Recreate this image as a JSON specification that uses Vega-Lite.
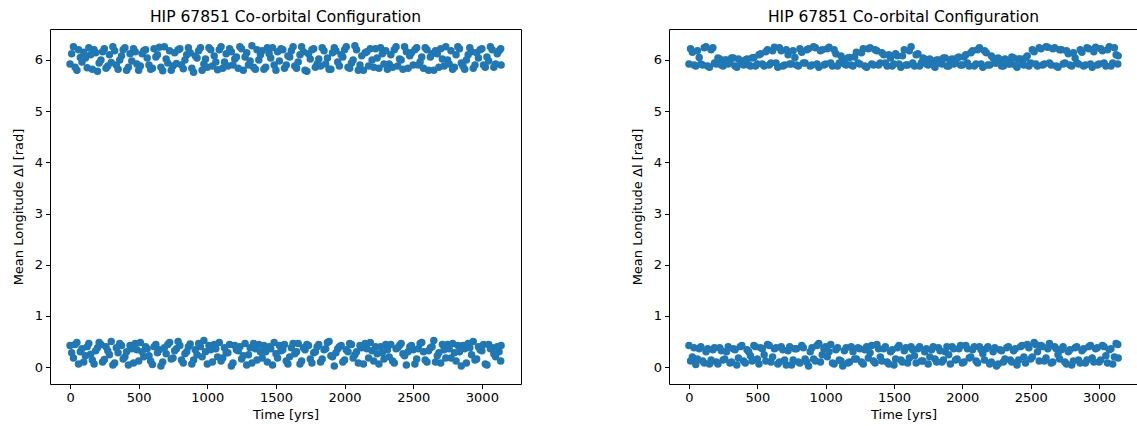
{
  "$schema": "https://vega.github.io/schema/vega-lite/v6.json",
  "background": "white",
  "padding": {"top": 9, "left": 11, "right": 0, "bottom": 0},
  "spacing": 108,
  "config": {
    "font": "DejaVu Sans",
    "view": {"stroke": "black", "strokeWidth": 1},
    "axis": {"domain": false, "grid": false, "tickColor": "black", "tickSize": 4.5, "labelColor": "black", "labelFontSize": 13, "labelFont": "DejaVu Sans", "labelPadding": 3, "titleFont": "DejaVu Sans", "titleFontSize": 13, "titleFontWeight": "normal", "titleColor": "black"},
    "axisX": {"titlePadding": 4, "format": "d"},
    "axisY": {"titlePadding": 9},
    "title": {"font": "DejaVu Sans", "fontSize": 15.5, "fontWeight": "normal", "color": "black", "offset": 4}
  },
  "data": {"values": [
{"t":0,"a":5.92,"b":0.42,"c":5.92,"d":0.42},
{"t":25,"a":6.26,"b":0.18,"c":6.15,"d":0.20},
{"t":50,"a":5.80,"b":0.48,"c":5.88,"d":0.05},
{"t":75,"a":6.05,"b":0.30,"c":6.05,"d":0.36},
{"t":100,"a":6.15,"b":0.10,"c":5.90,"d":0.12},
{"t":125,"a":5.85,"b":0.40,"c":6.26,"d":0.30},
{"t":150,"a":6.10,"b":0.25,"c":5.86,"d":0.06},
{"t":175,"a":6.20,"b":0.06,"c":6.24,"d":0.34},
{"t":200,"a":5.78,"b":0.38,"c":5.92,"d":0.10},
{"t":225,"a":6.00,"b":0.44,"c":6.02,"d":0.38},
{"t":250,"a":6.22,"b":0.15,"c":5.88,"d":0.14},
{"t":275,"a":5.88,"b":0.32,"c":6.00,"d":0.30},
{"t":300,"a":5.95,"b":0.50,"c":5.94,"d":0.08},
{"t":325,"a":6.18,"b":0.08,"c":6.04,"d":0.36},
{"t":350,"a":5.82,"b":0.28,"c":5.86,"d":0.04},
{"t":375,"a":6.08,"b":0.42,"c":5.98,"d":0.40},
{"t":400,"a":6.24,"b":0.20,"c":5.90,"d":0.12},
{"t":425,"a":5.86,"b":0.04,"c":6.02,"d":0.34},
{"t":450,"a":5.98,"b":0.36,"c":5.88,"d":0.22},
{"t":475,"a":6.16,"b":0.46,"c":6.05,"d":0.42},
{"t":500,"a":5.80,"b":0.12,"c":5.92,"d":0.16},
{"t":525,"a":6.12,"b":0.30,"c":6.12,"d":0.38},
{"t":550,"a":6.20,"b":0.40,"c":5.88,"d":0.24},
{"t":575,"a":5.90,"b":0.22,"c":6.20,"d":0.44},
{"t":600,"a":5.84,"b":0.05,"c":5.94,"d":0.10},
{"t":625,"a":6.06,"b":0.44,"c":6.25,"d":0.36},
{"t":650,"a":6.25,"b":0.34,"c":5.86,"d":0.06},
{"t":675,"a":5.79,"b":0.10,"c":6.18,"d":0.40},
{"t":700,"a":6.02,"b":0.26,"c":5.90,"d":0.14},
{"t":725,"a":6.18,"b":0.48,"c":6.10,"d":0.32},
{"t":750,"a":5.88,"b":0.18,"c":5.92,"d":0.04},
{"t":775,"a":5.93,"b":0.36,"c":6.05,"d":0.36},
{"t":800,"a":6.22,"b":0.42,"c":5.88,"d":0.10},
{"t":825,"a":5.83,"b":0.08,"c":6.15,"d":0.42},
{"t":850,"a":6.10,"b":0.30,"c":5.94,"d":0.16},
{"t":875,"a":6.14,"b":0.45,"c":6.22,"d":0.02},
{"t":900,"a":5.76,"b":0.14,"c":5.90,"d":0.38},
{"t":925,"a":6.04,"b":0.24,"c":6.24,"d":0.12},
{"t":950,"a":6.24,"b":0.40,"c":5.86,"d":0.46},
{"t":975,"a":5.92,"b":0.52,"c":6.20,"d":0.24},
{"t":1000,"a":5.86,"b":0.06,"c":5.92,"d":0.40},
{"t":1025,"a":6.20,"b":0.34,"c":6.25,"d":0.30},
{"t":1050,"a":6.08,"b":0.44,"c":5.88,"d":0.08},
{"t":1075,"a":5.81,"b":0.20,"c":6.12,"d":0.34},
{"t":1100,"a":6.26,"b":0.12,"c":5.94,"d":0.14},
{"t":1125,"a":5.96,"b":0.38,"c":6.02,"d":0.02},
{"t":1150,"a":5.88,"b":0.28,"c":5.90,"d":0.38},
{"t":1175,"a":6.16,"b":0.02,"c":6.05,"d":0.10},
{"t":1200,"a":6.02,"b":0.42,"c":5.88,"d":0.30},
{"t":1225,"a":5.84,"b":0.32,"c":6.15,"d":0.16},
{"t":1250,"a":6.22,"b":0.16,"c":5.92,"d":0.36},
{"t":1275,"a":6.06,"b":0.46,"c":6.22,"d":0.06},
{"t":1300,"a":5.90,"b":0.24,"c":5.86,"d":0.40},
{"t":1325,"a":6.28,"b":0.08,"c":6.24,"d":0.28},
{"t":1350,"a":5.82,"b":0.36,"c":5.90,"d":0.12},
{"t":1375,"a":6.00,"b":0.44,"c":6.18,"d":0.44},
{"t":1400,"a":6.18,"b":0.18,"c":5.94,"d":0.20},
{"t":1425,"a":5.86,"b":0.30,"c":6.10,"d":0.36},
{"t":1450,"a":6.12,"b":0.40,"c":5.88,"d":0.10},
{"t":1475,"a":6.24,"b":0.04,"c":6.04,"d":0.30},
{"t":1500,"a":5.80,"b":0.26,"c":5.92,"d":0.04},
{"t":1525,"a":5.98,"b":0.42,"c":6.08,"d":0.38},
{"t":1550,"a":6.20,"b":0.34,"c":5.86,"d":0.14},
{"t":1575,"a":5.90,"b":0.12,"c":6.20,"d":0.32},
{"t":1600,"a":6.06,"b":0.20,"c":5.90,"d":0.08},
{"t":1625,"a":6.26,"b":0.46,"c":6.26,"d":0.40},
{"t":1650,"a":5.84,"b":0.30,"c":5.88,"d":0.22},
{"t":1675,"a":6.10,"b":0.06,"c":6.12,"d":0.36},
{"t":1700,"a":6.16,"b":0.38,"c":5.94,"d":0.12},
{"t":1725,"a":5.78,"b":0.44,"c":6.02,"d":0.30},
{"t":1750,"a":6.02,"b":0.16,"c":5.90,"d":0.06},
{"t":1775,"a":6.22,"b":0.28,"c":5.98,"d":0.34},
{"t":1800,"a":5.92,"b":0.40,"c":5.86,"d":0.16},
{"t":1825,"a":5.88,"b":0.10,"c":6.00,"d":0.38},
{"t":1850,"a":6.18,"b":0.34,"c":5.92,"d":0.10},
{"t":1875,"a":6.04,"b":0.48,"c":6.04,"d":0.30},
{"t":1900,"a":5.82,"b":0.22,"c":5.88,"d":0.24},
{"t":1925,"a":6.24,"b":0.02,"c":6.02,"d":0.40},
{"t":1950,"a":5.96,"b":0.36,"c":5.94,"d":0.14},
{"t":1975,"a":6.10,"b":0.42,"c":6.06,"d":0.36},
{"t":2000,"a":6.20,"b":0.14,"c":5.90,"d":0.08},
{"t":2025,"a":5.86,"b":0.30,"c":6.10,"d":0.42},
{"t":2050,"a":5.94,"b":0.44,"c":5.88,"d":0.18},
{"t":2075,"a":6.28,"b":0.24,"c":6.18,"d":0.34},
{"t":2100,"a":5.80,"b":0.08,"c":5.92,"d":0.12},
{"t":2125,"a":6.08,"b":0.38,"c":6.24,"d":0.40},
{"t":2150,"a":6.14,"b":0.46,"c":5.86,"d":0.26},
{"t":2175,"a":5.88,"b":0.18,"c":6.14,"d":0.36},
{"t":2200,"a":6.00,"b":0.32,"c":5.90,"d":0.06},
{"t":2225,"a":6.22,"b":0.40,"c":6.04,"d":0.30},
{"t":2250,"a":5.84,"b":0.06,"c":5.94,"d":0.02},
{"t":2275,"a":6.12,"b":0.28,"c":6.00,"d":0.34},
{"t":2300,"a":6.18,"b":0.44,"c":5.88,"d":0.10},
{"t":2325,"a":5.92,"b":0.20,"c":5.98,"d":0.38},
{"t":2350,"a":5.86,"b":0.12,"c":5.92,"d":0.14},
{"t":2375,"a":6.26,"b":0.36,"c":6.04,"d":0.32},
{"t":2400,"a":6.02,"b":0.42,"c":5.86,"d":0.04},
{"t":2425,"a":5.82,"b":0.26,"c":6.02,"d":0.40},
{"t":2450,"a":6.16,"b":0.04,"c":5.90,"d":0.20},
{"t":2475,"a":6.08,"b":0.40,"c":6.08,"d":0.44},
{"t":2500,"a":5.90,"b":0.34,"c":5.94,"d":0.16},
{"t":2525,"a":6.24,"b":0.16,"c":6.16,"d":0.48},
{"t":2550,"a":5.96,"b":0.46,"c":5.88,"d":0.30},
{"t":2575,"a":5.84,"b":0.30,"c":6.22,"d":0.42},
{"t":2600,"a":6.20,"b":0.10,"c":5.92,"d":0.12},
{"t":2625,"a":6.06,"b":0.38,"c":6.25,"d":0.36},
{"t":2650,"a":5.80,"b":0.52,"c":5.90,"d":0.08},
{"t":2675,"a":6.12,"b":0.22,"c":6.24,"d":0.40},
{"t":2700,"a":6.22,"b":0.08,"c":5.86,"d":0.24},
{"t":2725,"a":5.88,"b":0.34,"c":6.20,"d":0.34},
{"t":2750,"a":6.00,"b":0.44,"c":5.94,"d":0.10},
{"t":2775,"a":6.18,"b":0.18,"c":6.12,"d":0.30},
{"t":2800,"a":5.86,"b":0.28,"c":5.88,"d":0.04},
{"t":2825,"a":6.26,"b":0.42,"c":6.04,"d":0.38},
{"t":2850,"a":5.94,"b":0.02,"c":5.92,"d":0.14},
{"t":2875,"a":5.82,"b":0.36,"c":6.15,"d":0.32},
{"t":2900,"a":6.10,"b":0.46,"c":5.90,"d":0.08},
{"t":2925,"a":6.16,"b":0.24,"c":6.22,"d":0.40},
{"t":2950,"a":5.90,"b":0.14,"c":5.86,"d":0.18},
{"t":2975,"a":6.04,"b":0.40,"c":6.25,"d":0.36},
{"t":3000,"a":6.22,"b":0.32,"c":5.92,"d":0.10},
{"t":3025,"a":5.86,"b":0.06,"c":6.18,"d":0.42},
{"t":3050,"a":5.98,"b":0.44,"c":5.88,"d":0.22},
{"t":3075,"a":6.20,"b":0.38,"c":6.26,"d":0.34},
{"t":3100,"a":5.92,"b":0.20,"c":5.94,"d":0.06},
{"t":3125,"a":6.18,"b":0.30,"c":6.10,"d":0.46},
{"t":3140,"a":5.90,"b":0.42,"c":6.08,"d":0.18},
{"t":12,"a":6.12,"b":0.28,"c":6.22,"d":0.12},
{"t":37,"a":5.86,"b":0.44,"c":5.90,"d":0.38},
{"t":62,"a":6.20,"b":0.06,"c":6.18,"d":0.16},
{"t":87,"a":5.96,"b":0.36,"c":5.92,"d":0.40},
{"t":112,"a":6.04,"b":0.22,"c":6.24,"d":0.08},
{"t":137,"a":6.24,"b":0.46,"c":5.88,"d":0.36},
{"t":162,"a":5.82,"b":0.14,"c":6.20,"d":0.14},
{"t":187,"a":6.14,"b":0.32,"c":5.94,"d":0.38},
{"t":212,"a":5.94,"b":0.48,"c":6.04,"d":0.06},
{"t":237,"a":6.16,"b":0.10,"c":5.90,"d":0.32},
{"t":262,"a":5.84,"b":0.40,"c":6.00,"d":0.16},
{"t":287,"a":6.10,"b":0.24,"c":5.92,"d":0.40},
{"t":312,"a":6.26,"b":0.04,"c":6.04,"d":0.10},
{"t":337,"a":5.90,"b":0.38,"c":5.88,"d":0.34},
{"t":362,"a":6.00,"b":0.46,"c":6.02,"d":0.18},
{"t":387,"a":6.20,"b":0.16,"c":5.94,"d":0.42},
{"t":412,"a":5.80,"b":0.30,"c":6.00,"d":0.08},
{"t":437,"a":6.12,"b":0.42,"c":5.90,"d":0.30},
{"t":462,"a":6.22,"b":0.08,"c":6.04,"d":0.12},
{"t":487,"a":5.92,"b":0.34,"c":5.88,"d":0.40},
{"t":512,"a":5.88,"b":0.48,"c":6.10,"d":0.06},
{"t":537,"a":6.18,"b":0.20,"c":5.92,"d":0.36},
{"t":562,"a":6.04,"b":0.36,"c":6.16,"d":0.12},
{"t":587,"a":5.82,"b":0.12,"c":5.90,"d":0.42},
{"t":612,"a":6.22,"b":0.40,"c":6.18,"d":0.20},
{"t":637,"a":6.10,"b":0.28,"c":5.94,"d":0.38},
{"t":662,"a":5.86,"b":0.02,"c":6.24,"d":0.10},
{"t":687,"a":6.26,"b":0.38,"c":5.88,"d":0.34},
{"t":712,"a":5.94,"b":0.44,"c":6.20,"d":0.04},
{"t":737,"a":5.80,"b":0.16,"c":5.92,"d":0.40},
{"t":762,"a":6.14,"b":0.32,"c":6.18,"d":0.14},
{"t":787,"a":6.20,"b":0.50,"c":5.90,"d":0.36},
{"t":812,"a":5.90,"b":0.14,"c":6.22,"d":0.08},
{"t":837,"a":6.00,"b":0.26,"c":5.94,"d":0.38},
{"t":862,"a":6.24,"b":0.40,"c":6.20,"d":0.10},
{"t":887,"a":5.84,"b":0.06,"c":5.88,"d":0.30},
{"t":912,"a":6.08,"b":0.34,"c":6.26,"d":0.16},
{"t":937,"a":6.18,"b":0.46,"c":5.92,"d":0.42},
{"t":962,"a":5.80,"b":0.20,"c":6.18,"d":0.10},
{"t":987,"a":6.02,"b":0.30,"c":5.90,"d":0.36},
{"t":1012,"a":6.24,"b":0.42,"c":6.22,"d":0.20},
{"t":1037,"a":5.88,"b":0.10,"c":5.94,"d":0.44},
{"t":1062,"a":5.96,"b":0.36,"c":6.20,"d":0.06},
{"t":1087,"a":6.20,"b":0.48,"c":5.88,"d":0.38},
{"t":1112,"a":5.84,"b":0.18,"c":6.08,"d":0.12},
{"t":1137,"a":6.12,"b":0.28,"c":5.92,"d":0.32},
{"t":1162,"a":6.22,"b":0.44,"c":6.04,"d":0.08},
{"t":1187,"a":5.90,"b":0.08,"c":5.90,"d":0.40},
{"t":1212,"a":6.06,"b":0.34,"c":6.06,"d":0.16},
{"t":1237,"a":6.26,"b":0.40,"c":5.94,"d":0.38},
{"t":1262,"a":5.80,"b":0.22,"c":6.14,"d":0.10},
{"t":1287,"a":6.14,"b":0.04,"c":5.88,"d":0.34},
{"t":1312,"a":5.98,"b":0.38,"c":6.22,"d":0.18},
{"t":1337,"a":5.86,"b":0.46,"c":5.92,"d":0.42},
{"t":1362,"a":6.20,"b":0.14,"c":6.20,"d":0.08},
{"t":1387,"a":6.10,"b":0.30,"c":5.90,"d":0.36},
{"t":1412,"a":5.82,"b":0.42,"c":6.14,"d":0.12},
{"t":1437,"a":6.24,"b":0.10,"c":5.94,"d":0.40},
{"t":1462,"a":6.04,"b":0.36,"c":6.10,"d":0.06},
{"t":1487,"a":5.90,"b":0.48,"c":5.88,"d":0.34},
{"t":1512,"a":6.16,"b":0.18,"c":6.12,"d":0.16},
{"t":1537,"a":6.22,"b":0.32,"c":5.92,"d":0.42},
{"t":1562,"a":5.84,"b":0.44,"c":6.08,"d":0.10},
{"t":1587,"a":6.08,"b":0.06,"c":5.90,"d":0.38},
{"t":1612,"a":6.18,"b":0.38,"c":6.18,"d":0.18},
{"t":1637,"a":5.88,"b":0.26,"c":5.94,"d":0.34},
{"t":1662,"a":5.96,"b":0.46,"c":6.10,"d":0.08},
{"t":1687,"a":6.26,"b":0.12,"c":5.88,"d":0.40},
{"t":1712,"a":5.80,"b":0.34,"c":6.04,"d":0.12},
{"t":1737,"a":6.12,"b":0.42,"c":5.92,"d":0.36},
{"t":1762,"a":6.20,"b":0.08,"c":6.02,"d":0.20},
{"t":1787,"a":5.86,"b":0.30,"c":5.90,"d":0.40},
{"t":1812,"a":6.02,"b":0.44,"c":6.00,"d":0.10},
{"t":1837,"a":6.24,"b":0.16,"c":5.94,"d":0.32},
{"t":1862,"a":5.92,"b":0.36,"c":6.04,"d":0.14},
{"t":1887,"a":5.82,"b":0.50,"c":5.88,"d":0.40},
{"t":1912,"a":6.14,"b":0.20,"c":6.00,"d":0.06},
{"t":1937,"a":6.18,"b":0.28,"c":5.92,"d":0.36},
{"t":1962,"a":5.88,"b":0.40,"c":6.04,"d":0.16},
{"t":1987,"a":6.06,"b":0.10,"c":5.90,"d":0.42},
{"t":2012,"a":6.26,"b":0.34,"c":6.06,"d":0.10},
{"t":2037,"a":5.84,"b":0.46,"c":5.94,"d":0.36},
{"t":2062,"a":6.00,"b":0.18,"c":6.14,"d":0.20},
{"t":2087,"a":6.20,"b":0.30,"c":5.88,"d":0.40},
{"t":2112,"a":5.90,"b":0.42,"c":6.20,"d":0.08},
{"t":2137,"a":5.80,"b":0.06,"c":5.92,"d":0.34},
{"t":2162,"a":6.16,"b":0.36,"c":6.18,"d":0.14},
{"t":2187,"a":6.22,"b":0.48,"c":5.90,"d":0.40},
{"t":2212,"a":5.86,"b":0.12,"c":6.08,"d":0.10},
{"t":2237,"a":6.04,"b":0.26,"c":5.94,"d":0.38},
{"t":2262,"a":6.24,"b":0.40,"c":6.04,"d":0.06},
{"t":2287,"a":5.92,"b":0.16,"c":5.88,"d":0.32},
{"t":2312,"a":5.82,"b":0.34,"c":6.02,"d":0.16},
{"t":2337,"a":6.10,"b":0.44,"c":5.92,"d":0.40},
{"t":2362,"a":6.20,"b":0.08,"c":6.06,"d":0.10},
{"t":2387,"a":5.88,"b":0.38,"c":5.90,"d":0.36},
{"t":2412,"a":6.00,"b":0.46,"c":6.02,"d":0.14},
{"t":2437,"a":6.26,"b":0.22,"c":5.94,"d":0.42},
{"t":2462,"a":5.84,"b":0.30,"c":6.04,"d":0.08},
{"t":2487,"a":6.14,"b":0.42,"c":5.88,"d":0.38},
{"t":2512,"a":6.20,"b":0.06,"c":6.20,"d":0.20},
{"t":2537,"a":5.90,"b":0.36,"c":5.92,"d":0.44},
{"t":2562,"a":6.06,"b":0.48,"c":6.24,"d":0.12},
{"t":2587,"a":6.24,"b":0.14,"c":5.90,"d":0.40},
{"t":2612,"a":5.80,"b":0.32,"c":6.26,"d":0.18},
{"t":2637,"a":6.12,"b":0.40,"c":5.94,"d":0.46},
{"t":2662,"a":6.18,"b":0.10,"c":6.22,"d":0.10},
{"t":2687,"a":5.86,"b":0.28,"c":5.88,"d":0.36},
{"t":2712,"a":6.02,"b":0.44,"c":6.20,"d":0.16},
{"t":2737,"a":6.26,"b":0.18,"c":5.92,"d":0.40},
{"t":2762,"a":5.92,"b":0.36,"c":6.18,"d":0.06},
{"t":2787,"a":5.82,"b":0.46,"c":5.90,"d":0.34},
{"t":2812,"a":6.10,"b":0.12,"c":6.14,"d":0.12},
{"t":2837,"a":6.22,"b":0.30,"c":5.94,"d":0.40},
{"t":2862,"a":5.88,"b":0.42,"c":6.20,"d":0.08},
{"t":2887,"a":6.00,"b":0.08,"c":5.88,"d":0.36},
{"t":2912,"a":6.24,"b":0.38,"c":6.24,"d":0.14},
{"t":2937,"a":5.84,"b":0.50,"c":5.92,"d":0.42},
{"t":2962,"a":6.14,"b":0.16,"c":6.16,"d":0.10},
{"t":2987,"a":6.20,"b":0.34,"c":5.90,"d":0.38},
{"t":3012,"a":5.90,"b":0.44,"c":6.22,"d":0.14},
{"t":3037,"a":6.06,"b":0.04,"c":5.94,"d":0.40},
{"t":3062,"a":6.26,"b":0.36,"c":6.20,"d":0.08},
{"t":3087,"a":5.86,"b":0.26,"c":5.88,"d":0.36},
{"t":3112,"a":6.12,"b":0.40,"c":6.24,"d":0.20},
{"t":3137,"a":6.22,"b":0.12,"c":5.92,"d":0.44}
  ]},
  "hconcat": [
    {
      "width": 471, "height": 355,
      "title": "HIP 67851 Co-orbital Configuration",
      "transform": [{"fold": ["a", "b"], "as": ["k", "y"]}],
      "mark": {"type": "point", "filled": true, "opacity": 1, "size": 56, "color": "#1f77b4"},
      "encoding": {
        "x": {"field": "t", "type": "quantitative", "scale": {"domain": [-146, 3285], "nice": false, "zero": false}, "axis": {"title": "Time [yrs]", "values": [0, 500, 1000, 1500, 2000, 2500, 3000]}},
        "y": {"field": "y", "type": "quantitative", "scale": {"domain": [-0.33, 6.605], "nice": false, "zero": false}, "axis": {"title": "Mean Longitude Δl [rad]", "values": [0, 1, 2, 3, 4, 5, 6]}}
      }
    },
    {
      "width": 469, "height": 355,
      "title": "HIP 67851 Co-orbital Configuration",
      "transform": [{"fold": ["c", "d"], "as": ["k", "y"]}],
      "mark": {"type": "point", "filled": true, "opacity": 1, "size": 56, "color": "#1f77b4"},
      "encoding": {
        "x": {"field": "t", "type": "quantitative", "scale": {"domain": [-146, 3285], "nice": false, "zero": false}, "axis": {"title": "Time [yrs]", "values": [0, 500, 1000, 1500, 2000, 2500, 3000]}},
        "y": {"field": "y", "type": "quantitative", "scale": {"domain": [-0.33, 6.605], "nice": false, "zero": false}, "axis": {"title": "Mean Longitude Δl [rad]", "values": [0, 1, 2, 3, 4, 5, 6]}}
      }
    }
  ]
}
